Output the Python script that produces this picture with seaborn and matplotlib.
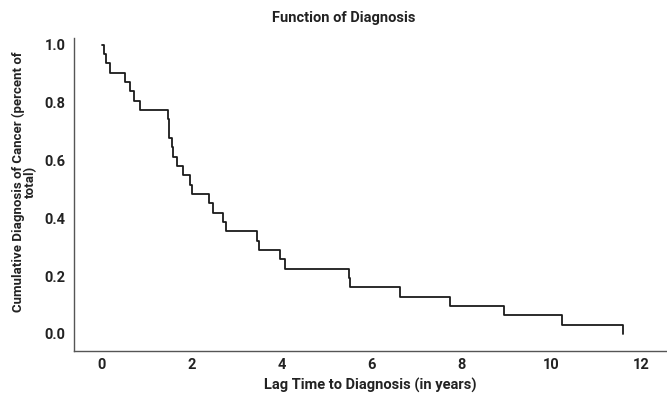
import matplotlib
matplotlib.use("Agg")
import matplotlib.pyplot as plt
import seaborn as sns
import pandas as pd

# Kaplan-Meier style cumulative curve (n = 31)
times = [0, 0.04, 0.09, 0.18, 0.52, 0.63, 0.72, 0.85, 1.47, 1.49, 1.50, 1.55,
         1.57, 1.68, 1.80, 1.95, 2.00, 2.37, 2.48, 2.70, 2.76, 3.44, 3.50,
         3.97, 4.07, 5.50, 5.52, 6.63, 7.74, 8.94, 10.24, 11.58]
surv = [1.0, 0.968, 0.935, 0.903, 0.871, 0.839, 0.806, 0.774, 0.742, 0.710,
        0.677, 0.645, 0.613, 0.581, 0.548, 0.516, 0.484, 0.452, 0.419, 0.387,
        0.355, 0.323, 0.290, 0.258, 0.226, 0.194, 0.161, 0.129, 0.097, 0.065,
        0.032, 0.0]
x_ticks = [0, 2, 4, 6, 8, 10, 12]
y_ticks = [0.0, 0.2, 0.4, 0.6, 0.8, 1.0]

title = "Function of Diagnosis"
x_label = "Lag Time to Diagnosis (in years)"
y_label = "Cumulative Diagnosis of Cancer (percent of\ntotal)"

sns.set_style("white")
plt.rcParams["font.family"] = ["Roboto", "DejaVu Sans"]

df = pd.DataFrame({"time": times, "surv": surv})

fig = plt.figure(figsize=(6.67, 3.94), dpi=100)
ax = fig.add_axes([0.111, 0.109, 0.888, 0.794])

sns.lineplot(data=df, x="time", y="surv", drawstyle="steps-post",
             color="#1a1a1a", linewidth=1.3, ax=ax, estimator=None)

fs_tick = 10.5
fs_lab = 10.5
ax.set_xlim(-0.62, 12.55)
ax.set_ylim(-0.059, 1.022)
ax.set_xticks(x_ticks)
ax.set_yticks(y_ticks)
ax.set_xticklabels([str(t) for t in x_ticks], fontsize=fs_tick,
                   fontweight="bold", color="#222222")
ax.set_yticklabels([f"{t:.1f}" for t in y_ticks], fontsize=fs_tick,
                   fontweight="bold", color="#222222")
ax.tick_params(axis="both", length=0)
ax.tick_params(axis="x", pad=5)
ax.tick_params(axis="y", pad=6)

for side in ["top", "right"]:
    ax.spines[side].set_visible(False)
for side in ["left", "bottom"]:
    ax.spines[side].set_color("#555555")
    ax.spines[side].set_linewidth(1.0)

ax.set_xlabel(x_label, fontsize=fs_lab, fontweight="bold", color="#222222",
              labelpad=4)
ax.set_ylabel(y_label, fontsize=9.5, fontweight="bold", color="#222222",
              linespacing=0.95)
ax.yaxis.set_label_coords(-0.062, 0.54)
fig.text(0.516, 0.955, title, ha="center", va="center", fontsize=fs_lab,
         fontweight="bold", color="#222222")

fig.savefig("out.png", dpi=100)
